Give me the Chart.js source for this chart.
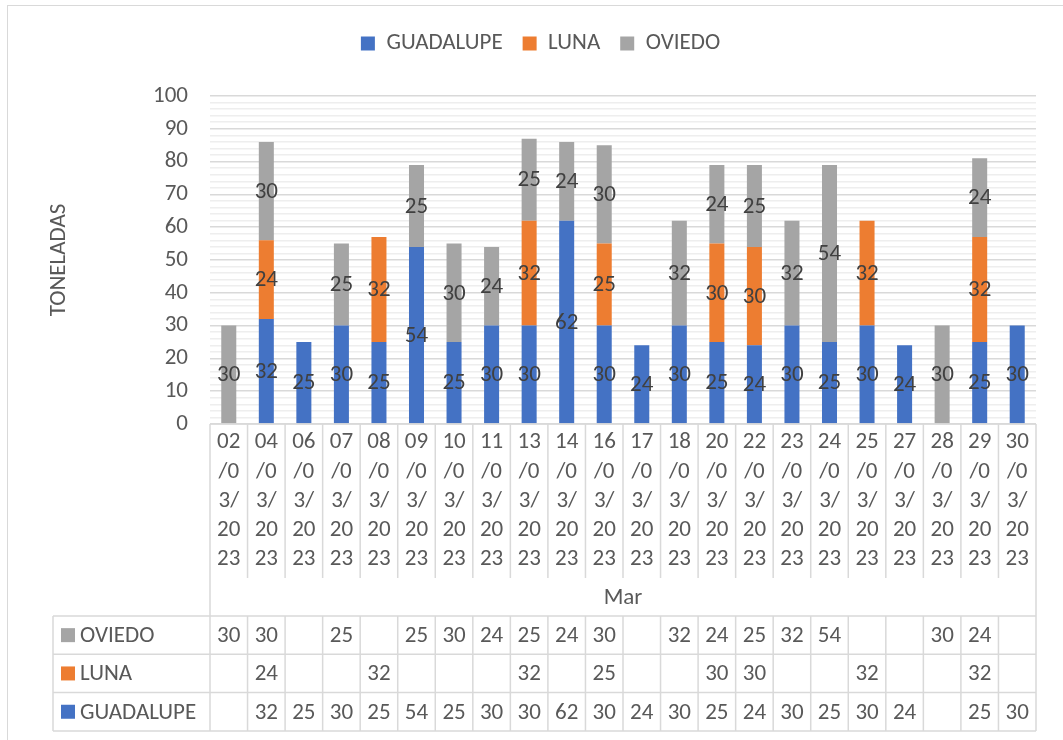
<!DOCTYPE html>
<html>
<head>
<meta charset="utf-8">
<script src="https://cdn.jsdelivr.net/npm/chart.js@4"></script>
<style>
  html, body { margin: 0; padding: 0; background: #fff; }
  #wrap { position: relative; width: 1063px; height: 740px; }
  #frame { position: absolute; left: 7px; top: 5px; width: 1060px; height: 745px; border: 1.5px solid #d9d9d9; box-sizing: border-box; }
</style>
</head>
<body>
<div id="wrap">
  <div id="frame"></div>
  <canvas id="chart" width="1063" height="740"></canvas>
</div>
<script>
// Data
const dates = ['02/03/2023', '04/03/2023', '06/03/2023', '07/03/2023', '08/03/2023', '09/03/2023',
  '10/03/2023', '11/03/2023', '13/03/2023', '14/03/2023', '16/03/2023', '17/03/2023', '18/03/2023',
  '20/03/2023', '22/03/2023', '23/03/2023', '24/03/2023', '25/03/2023', '27/03/2023', '28/03/2023',
  '29/03/2023', '30/03/2023'];
const guadalupe = [null, 32, 25, 30, 25, 54, 25, 30, 30, 62, 30, 24, 30, 25, 24, 30, 25, 30, 24, null, 25, 30];
const luna = [null, 24, null, null, 32, null, null, null, 32, null, 25, null, null, 30, 30, null, null, 32, null, null, 32, null];
const oviedo = [30, 30, null, 25, null, 25, 30, 24, 25, 24, 30, null, 32, 24, 25, 32, 54, null, null, 30, 24, null];
const monthLabel = 'Mar';
const yTicks = [0, 10, 20, 30, 40, 50, 60, 70, 80, 90, 100];

const FONT = "Carlito, Lato, 'Open Sans', sans-serif";
const FS = 23;
const TXT = '#595959';
const LINE = '#d9d9d9';

// split "02/03/2023" into 2-char pieces like Excel wraps it
function splitLabel(s) {
  const out = [];
  for (let i = 0; i < s.length; i += 2) out.push(s.slice(i, i + 2));
  return out;
}

// extra room under the legend
const legendSpace = {
  id: 'legendSpace',
  beforeInit(chart) {
    const fit = chart.legend.fit;
    chart.legend.fit = function () {
      fit.call(this);
      this.height += 31;
    };
  }
};

// value labels in the middle of each segment
const barLabels = {
  id: 'barLabels',
  afterDatasetsDraw(chart) {
    const ctx = chart.ctx;
    ctx.save();
    ctx.font = FS + 'px ' + FONT;
    ctx.fillStyle = '#404040';
    ctx.textAlign = 'center';
    ctx.textBaseline = 'middle';
    chart.data.datasets.forEach((ds, di) => {
      chart.getDatasetMeta(di).data.forEach((bar, i) => {
        const v = ds.data[i];
        if (v == null) return;
        ctx.fillText(String(v), bar.x, (bar.y + bar.base) / 2 + 1);
      });
    });
    ctx.restore();
  }
};

// data table under the axis (Excel style)
const dataTable = {
  id: 'dataTable',
  afterDraw(chart) {
    const ctx = chart.ctx;
    const x = chart.scales.x;
    const area = chart.chartArea;
    const n = dates.length;
    const w = (x.getPixelForValue(1) - x.getPixelForValue(0));
    const edges = [];
    for (let i = 0; i <= n; i++) edges.push(x.getPixelForValue(0) - w / 2 + i * w);
    const left = edges[0], right = edges[n];
    const top = area.bottom;
    const catBottom = top + 154;
    const monthBottom = catBottom + 38;
    const rowH = 38.3;
    const tableLeft = 53;

    ctx.save();
    ctx.strokeStyle = LINE;
    ctx.lineWidth = 1.5;
    ctx.beginPath();
    // category cells
    ctx.moveTo(left, top); ctx.lineTo(right, top);
    edges.forEach(e => { ctx.moveTo(e, top); ctx.lineTo(e, catBottom); });
    // month row
    ctx.moveTo(left, catBottom); ctx.lineTo(left, monthBottom);
    ctx.moveTo(right, catBottom); ctx.lineTo(right, monthBottom);
    // data rows
    for (let r = 0; r <= 3; r++) {
      const y = monthBottom + r * rowH;
      ctx.moveTo(tableLeft, y); ctx.lineTo(right, y);
    }
    const tableBottom = monthBottom + 3 * rowH;
    ctx.moveTo(tableLeft, monthBottom); ctx.lineTo(tableLeft, tableBottom);
    edges.forEach(e => { ctx.moveTo(e, monthBottom); ctx.lineTo(e, tableBottom); });
    ctx.stroke();

    ctx.font = FS + 'px ' + FONT;
    ctx.fillStyle = TXT;
    ctx.textBaseline = 'middle';
    ctx.textAlign = 'center';
    ctx.fillText(monthLabel, (left + right) / 2, (catBottom + monthBottom) / 2 + 1);

    const rows = [
      { name: 'OVIEDO', color: '#A5A5A5', data: oviedo },
      { name: 'LUNA', color: '#ED7D31', data: luna },
      { name: 'GUADALUPE', color: '#4472C4', data: guadalupe }
    ];
    rows.forEach((row, r) => {
      const cy = monthBottom + r * rowH + rowH / 2;
      ctx.fillStyle = row.color;
      ctx.fillRect(61, cy - 7, 14, 14);
      ctx.fillStyle = TXT;
      ctx.textAlign = 'left';
      ctx.fillText(row.name, 80, cy + 1);
      ctx.textAlign = 'center';
      row.data.forEach((v, i) => {
        if (v == null) return;
        ctx.fillText(String(v), x.getPixelForValue(i), cy + 1);
      });
    });
    ctx.restore();
  }
};

new Chart(document.getElementById('chart'), {
  type: 'bar',
  data: {
    labels: dates,
    datasets: [
      { label: 'GUADALUPE', data: guadalupe, backgroundColor: '#4472C4' },
      { label: 'LUNA', data: luna, backgroundColor: '#ED7D31' },
      { label: 'OVIEDO', data: oviedo, backgroundColor: '#A5A5A5' }
    ]
  },
  options: {
    responsive: false,
    animation: false,
    layout: { padding: { top: 12, left: 45, right: 27, bottom: 0 } },
    datasets: { bar: { categoryPercentage: 1, barPercentage: 0.4 } },
    scales: {
      x: {
        stacked: true,
        grid: { display: false, drawTicks: false },
        border: { display: false },
        ticks: {
          autoSkip: false,
          maxRotation: 0,
          minRotation: 0,
          padding: 4,
          color: TXT,
          font: { family: FONT, size: FS, lineHeight: 1.27 },
          callback: (v, i) => splitLabel(dates[i])
        },
        afterFit: s => { s.height = 316; }
      },
      y: {
        stacked: true,
        min: 0,
        max: 100,
        afterBuildTicks: s => {
          const t = [];
          for (let v = 0; v <= 100; v += 2) t.push({ value: v });
          s.ticks = t;
        },
        grid: {
          drawTicks: false,
          color: c => (yTicks.includes(c.tick.value) ? '#d9d9d9' : '#eeeeee'),
          lineWidth: 1.5
        },
        border: { display: false },
        ticks: {
          autoSkip: false,
          padding: 22,
          color: TXT,
          font: { family: FONT, size: FS },
          callback: v => (yTicks.includes(v) ? String(v) : '')
        },
        title: {
          display: true,
          text: 'TONELADAS',
          color: TXT,
          font: { family: FONT, size: FS },
          padding: 0
        },
        afterFit: s => { s.width = 165; }
      }
    },
    plugins: {
      legend: {
        position: 'top',
        labels: {
          boxWidth: 14,
          boxHeight: 14,
          padding: 20,
          color: TXT,
          font: { family: FONT, size: FS }
        }
      },
      tooltip: { enabled: false }
    }
  },
  plugins: [legendSpace, barLabels, dataTable]
});
</script>
</body>
</html>
